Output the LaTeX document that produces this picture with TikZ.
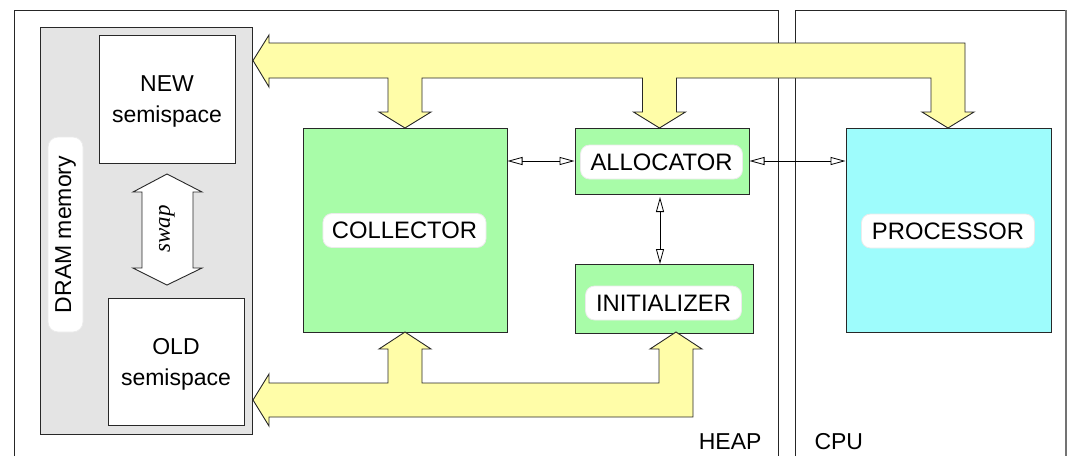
\documentclass[tikz,border=0pt]{standalone}
\usepackage{fontspec}
\setmainfont{Liberation Sans}
\newfontfamily\swapfont{Liberation Serif}
\usetikzlibrary{arrows.meta}
\definecolor{boxgreen}{RGB}{168,252,168}
\definecolor{boxcyan}{RGB}{158,252,252}
\definecolor{busyellow}{RGB}{255,253,168}
\definecolor{dramgray}{RGB}{228,228,228}
\definecolor{edge}{RGB}{40,40,40}
\tikzset{
  greenbox/.style={draw=edge, line width=1pt, fill=boxgreen},
  lbl/.style={fill=white, draw=black!8, line width=0.8pt, rounded corners=9pt, inner xsep=9pt, inner ysep=0pt, minimum height=34pt, font=\fontsize{23.8}{28}\selectfont},
  bus/.style={draw=edge, line width=0.9pt, fill=busyellow, line join=miter},
  thinarrow/.style={draw=black, line width=0.8pt, {Triangle[open,length=15pt,width=8pt]}-{Triangle[open,length=15pt,width=8pt]}},
  frameline/.style={draw=black!85, line width=0.9pt},
  semibox/.style={draw=edge, line width=1pt, fill=white, inner sep=0pt, align=center, font=\fontsize{23}{31}\selectfont}
}
\begin{document}
\begin{tikzpicture}[x=1pt,y=-1pt,font=\fontsize{23}{28}\selectfont]
\useasboundingbox (0,0) rectangle (1069,456);
% frames
\draw[frameline] (14,456) -- (14,10) -- (778,10) -- (778,456);
\draw[frameline] (795,456) -- (795,10) -- (1066,10);
\draw[draw=black!55, line width=1.6pt] (1066,10) -- (1066,456);
\node[anchor=base east] (heap) at (765,449) {HEAP};
\node[anchor=base west] (cpu) at (811,449) {CPU};
% DRAM
\node[draw=edge, line width=1pt, fill=dramgray, minimum width=212pt, minimum height=407pt, inner sep=0pt] (dram) at (146,230.5) {};
\node[semibox, minimum width=136pt, minimum height=128pt] (new) at (167,99) {};
\node[align=center, font=\fontsize{23}{31}\selectfont] (newtxt) at (167,101) {NEW\\semispace};
\node[semibox, minimum width=136pt, minimum height=127pt] (old) at (176,361.5) {};
\node[align=center, font=\fontsize{23}{31}\selectfont] (oldtxt) at (176,364) {OLD\\semispace};
\node[lbl, rotate=90, minimum width=195pt, minimum height=35pt, rounded corners=10pt, font=\fontsize{23}{28}\selectfont] (dramlbl) at (65.5,234.5) {DRAM memory};
% swap arrow
\draw[draw=edge, line width=0.9pt, fill=white] (167,174) -- (202,192) -- (193,192) -- (193,268) -- (202,268) -- (167,285) -- (133,268) -- (142,268) -- (142,192) -- (133,192) -- cycle;
\node[rotate=90, font=\swapfont\itshape\fontsize{23}{28}\selectfont] (swap) at (167,229) {swap};
% boxes
\node[greenbox, minimum width=204pt, minimum height=204pt, inner sep=0pt] (coll) at (405,230) {};
\node[lbl] (colllbl) at (404.5,230.5) {COLLECTOR};
\node[greenbox, minimum width=174pt, minimum height=66pt, inner sep=0pt] (alloc) at (662,161) {};
\node[lbl, inner xsep=10pt] (alloclbl) at (661.5,162) {ALLOCATOR};
\node[greenbox, minimum width=178pt, minimum height=69pt, inner sep=0pt] (init) at (664,298.5) {};
\node[lbl, inner xsep=10.5pt] (initlbl) at (663.5,303) {INITIALIZER};
\node[draw=edge, line width=1pt, fill=boxcyan, minimum width=205pt, minimum height=204pt, inner sep=0pt] (proc) at (948.5,230) {};
\node[lbl, inner xsep=10.5pt] (proclbl) at (948,231) {PROCESSOR};
% thin arrows
\draw[thinarrow] (coll.east |- alloc.west) -- (alloc.west);
\draw[thinarrow] (alloc.east) -- (proc.west |- alloc.east);
\draw[thinarrow] ([yshift=-3pt]660,194) -- (660,264);
% top bus
\draw[bus] (253,60.5) -- (269,35) -- (269,43) -- (965,43) -- (965,112) -- (974,112) -- (948,128) -- (922,112) -- (931,112) -- (931,78)
  -- (676.5,78) -- (676.5,112) -- (685.5,112) -- (659.5,128) -- (633.5,112) -- (642.5,112) -- (642.5,78)
  -- (422,78) -- (422,112) -- (431,112) -- (405,128) -- (379,112) -- (388,112) -- (388,78)
  -- (269,78) -- (269,87) -- cycle;
% bottom bus
\draw[bus] (253,400) -- (269,374) -- (269,383) -- (388,383) -- (388,349) -- (379,349) -- (405,332) -- (431,349) -- (422,349) -- (422,383)
  -- (659,383) -- (659,349) -- (650,349) -- (676,332) -- (702,349) -- (693,349) -- (693,417) -- (269,417) -- (269,426) -- cycle;
\end{tikzpicture}
\end{document}
